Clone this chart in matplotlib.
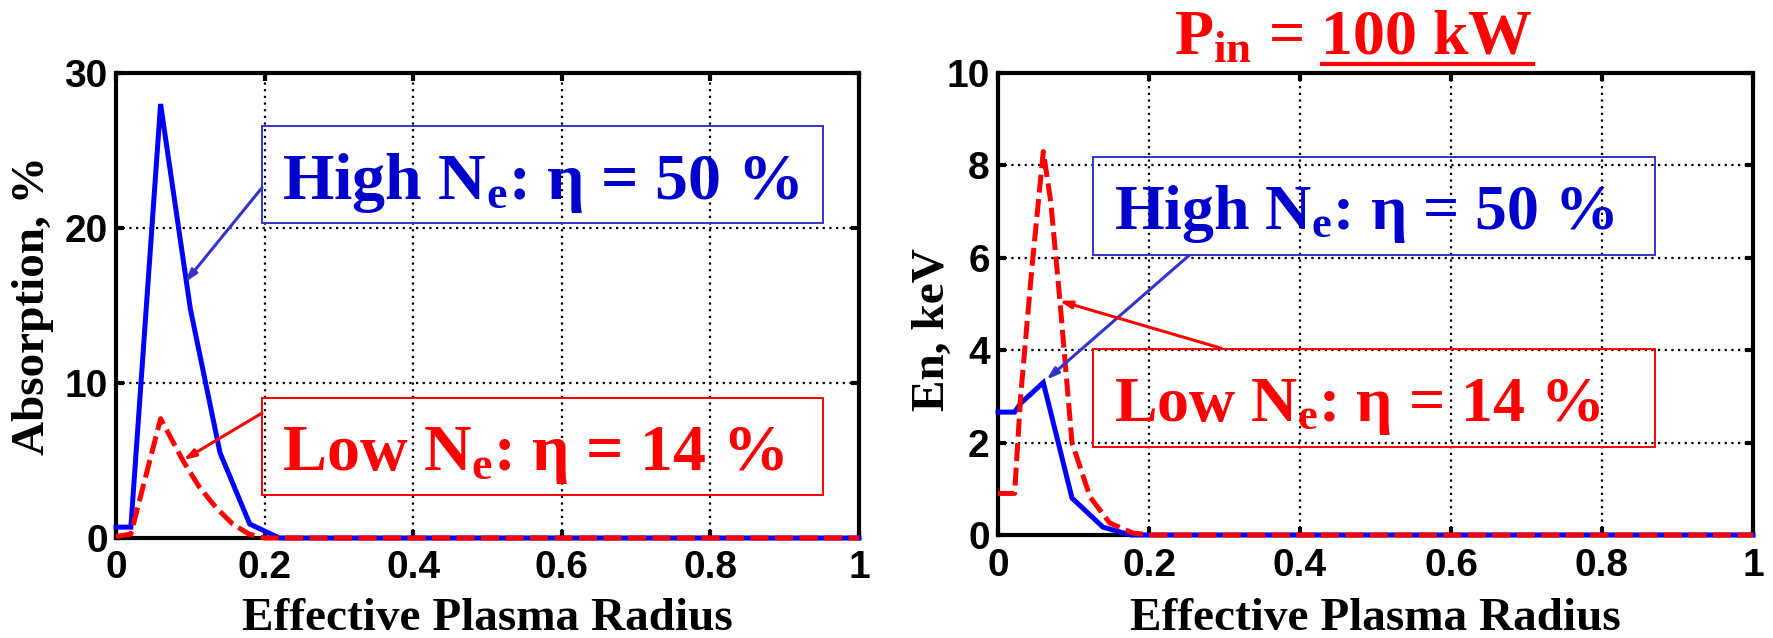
import matplotlib
matplotlib.use('Agg')
import matplotlib.pyplot as plt
from matplotlib.patches import Rectangle
from matplotlib.lines import Line2D
from matplotlib.ticker import FuncFormatter

plt.rcParams['font.family'] = 'Liberation Sans'
plt.rcParams['font.weight'] = 'bold'
plt.rcParams['mathtext.fontset'] = 'custom'
plt.rcParams['mathtext.rm'] = 'Liberation Serif:bold'
plt.rcParams['mathtext.it'] = 'Liberation Serif:bold:italic'
plt.rcParams['mathtext.bf'] = 'Liberation Serif:bold'
plt.rcParams['mathtext.default'] = 'rm'

# Left panel: absorption profile (%)
abs_r_high = [0, 0.02, 0.06, 0.10, 0.14, 0.18, 0.22, 1.0]
abs_high = [0.7, 0.7, 28.0, 14.8, 5.5, 0.9, 0.0, 0.0]
abs_r_low = [0, 0.02, 0.06, 0.09, 0.112, 0.134, 0.157, 0.179, 0.2, 1.0]
abs_low = [0.1, 0.25, 7.7, 5.0, 3.3, 2.0, 0.9, 0.25, 0.0, 0.0]

# Right panel: energy profile (keV)
en_r_high = [0, 0.022, 0.03, 0.06, 0.098, 0.139, 0.176, 1.0]
en_high = [2.66, 2.66, 2.85, 3.3, 0.8, 0.17, 0.0, 0.0]
en_r_low = [0, 0.022, 0.03, 0.045, 0.06, 0.07, 0.082, 0.098, 0.122, 0.148, 0.179, 0.205, 1.0]
en_low = [0.9, 0.9, 3.0, 5.8, 8.3, 7.2, 5.07, 2.0, 0.82, 0.26, 0.04, 0.0, 0.0]

x_ticks = [0, 0.2, 0.4, 0.6, 0.8, 1.0]
abs_ticks = [0, 10, 20, 30]
en_ticks = [0, 2, 4, 6, 8, 10]

label_high = r'High N$_\mathrm{e}$: η = 50 %'
label_low = r'Low N$_\mathrm{e}$: η = 14 %'
title_txt = r'P$_\mathrm{in}$ = 100 kW'
title_under = '100 kW'

BLUE = '#0000ff'
RED = '#ff0000'
TXT_BLUE = '#0000cc'
EDGE_BLUE = '#3333cc'
SERIF = 'Liberation Serif'

W, H = 1773, 638
fig = plt.figure(figsize=(W / 100, H / 100), dpi=100)
ax1 = fig.add_axes([116 / W, 1 - 538 / H, (859 - 116) / W, (538 - 73) / H])
ax2 = fig.add_axes([998 / W, 1 - 535 / H, (1753 - 998) / W, (535 - 73) / H])


def style(ax, ymax, yticks):
    ax.set_xlim(0, 1)
    ax.set_ylim(0, ymax)
    ax.set_xticks(x_ticks)
    ax.set_yticks(yticks)
    ax.xaxis.set_major_formatter(FuncFormatter(lambda v, p: '%g' % v))
    ax.grid(True, color='black', linestyle=(0, (1, 2)), linewidth=1.6)
    ax.set_axisbelow(True)
    for s in ax.spines.values():
        s.set_linewidth(3)
    ax.tick_params(direction='in', length=6, width=3, top=True, right=True,
                   labelsize=28, pad=9)
    ax.tick_params(axis='y', pad=6)


def curves(ax, xh, yh, xl, yl):
    ax.plot(xh, yh, color=BLUE, lw=3.6, zorder=3, clip_on=False,
            solid_joinstyle='miter')
    ax.plot(xl, yl, color=RED, lw=3.6, zorder=4, clip_on=False,
            dashes=(3.6, 1.3), dash_capstyle='butt')


def labelbox(ax, x0, x1, y0, y1, tx, ty, s, tc, ec, fs):
    ax.add_patch(Rectangle((x0, y0), x1 - x0, y1 - y0, fill=False,
                           edgecolor=ec, lw=1.4, zorder=5, clip_on=False))
    ax.text(tx, ty, s, color=tc, fontsize=fs, family=SERIF, fontweight='bold',
            ha='left', va='baseline', zorder=6)


def arrow(ax, start, end, c):
    ax.annotate('', xy=end, xytext=start, zorder=6,
                arrowprops=dict(arrowstyle='-|>,head_length=0.7,head_width=0.22',
                                color=c, lw=2.2, shrinkA=0, shrinkB=0))


# left panel
style(ax1, 30, abs_ticks)
curves(ax1, abs_r_high, abs_high, abs_r_low, abs_low)
labelbox(ax1, 0.1965, 0.951, 20.32, 26.58, 0.2234, 21.9, label_high, TXT_BLUE, EDGE_BLUE, 47.5)
labelbox(ax1, 0.1965, 0.951, 2.77, 9.03, 0.2234, 4.39, label_low, RED, RED, 47.5)
arrow(ax1, (0.1965, 22.6), (0.093, 16.5), EDGE_BLUE)
arrow(ax1, (0.1965, 8.06), (0.0906, 5.03), RED)
ax1.set_xlabel('Effective Plasma Radius', family=SERIF, fontsize=34,
               fontweight='bold', va='baseline')
ax1.xaxis.set_label_coords(0.5, -0.198)
ax1.set_ylabel('Absorption, %', family=SERIF, fontsize=34,
               fontweight='bold', va='center')
ax1.yaxis.set_label_coords(-0.112, 0.5)

# right panel
style(ax2, 10, en_ticks)
curves(ax2, en_r_high, en_high, en_r_low, en_low)
labelbox(ax2, 0.1258, 0.870, 6.06, 8.18, 0.1536, 6.63, label_high, TXT_BLUE, EDGE_BLUE, 46)
labelbox(ax2, 0.1258, 0.870, 1.90, 4.03, 0.1536, 2.46, label_low, RED, RED, 46)
arrow(ax2, (0.253, 6.05), (0.064, 3.36), EDGE_BLUE)
arrow(ax2, (0.296, 4.04), (0.081, 5.07), RED)
ax2.set_xlabel('Effective Plasma Radius', family=SERIF, fontsize=34,
               fontweight='bold', va='baseline')
ax2.xaxis.set_label_coords(0.5, -0.206)
ax2.set_ylabel('En, keV', family=SERIF, fontsize=34,
               fontweight='bold', va='center')
ax2.yaxis.set_label_coords(-0.086, 0.444)

# title with underlined power value
tx, ty = 1533 / W, 1 - 54 / H
fig.text(tx, ty, title_txt, color=RED, fontsize=46, family=SERIF,
         fontweight='bold', ha='right', va='baseline')
meas = fig.text(tx, ty, title_under, fontsize=46, family=SERIF,
                fontweight='bold', ha='right', va='baseline', alpha=0)
fig.canvas.draw()
bb = meas.get_window_extent()
uy = 1 - 64 / H
fig.add_artist(Line2D([bb.x0 / W, bb.x1 / W], [uy, uy], color=RED, lw=3,
                      transform=fig.transFigure))

fig.savefig('out.png', dpi=100)
